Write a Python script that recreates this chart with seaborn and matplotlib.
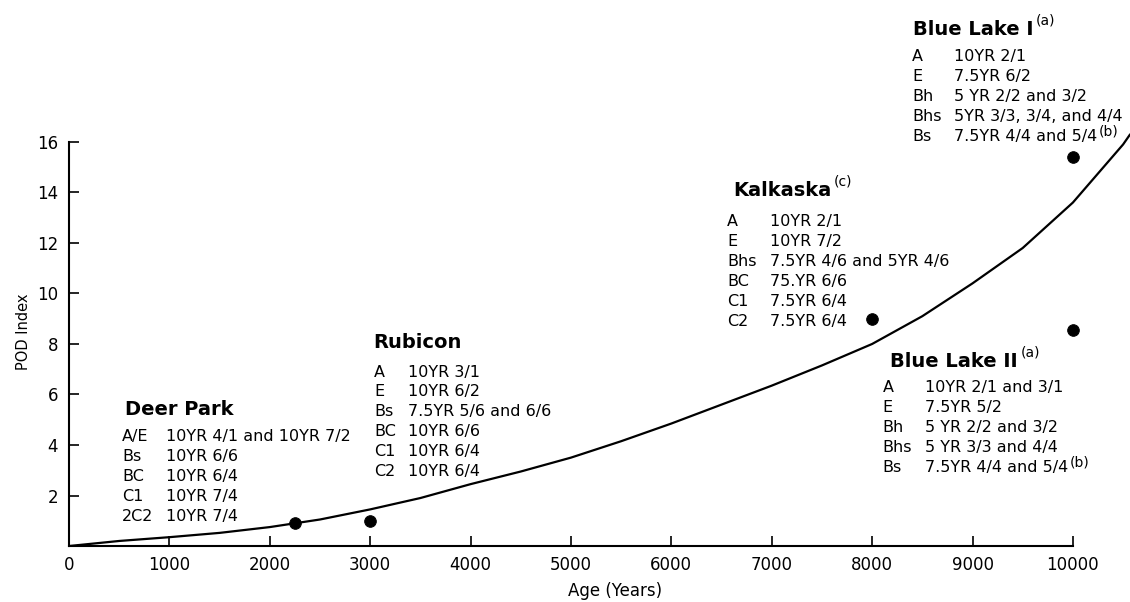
import matplotlib
matplotlib.use('Agg')
import matplotlib.pyplot as plt
import seaborn as sns
import pandas as pd

# Soil sites: age (years) and POD index
site_names = ['Deer Park', 'Rubicon', 'Kalkaska', 'Blue Lake I', 'Blue Lake II']
site_age = [2250, 3000, 8000, 10000, 10000]
site_pod = [0.9, 1.0, 9.0, 15.4, 8.55]

# Fitted curve
curve_age = [0, 500, 1000, 1500, 2000, 2500, 3000, 3500, 4000, 4500, 5000,
             5500, 6000, 6500, 7000, 7500, 8000, 8500, 9000, 9500, 10000,
             10500, 10570]
curve_pod = [0.0, 0.2, 0.35, 0.52, 0.75, 1.05, 1.45, 1.9, 2.45, 2.95, 3.5,
             4.15, 4.85, 5.6, 6.35, 7.15, 8.0, 9.1, 10.4, 11.8, 13.6,
             15.9, 16.3]

# Horizon colours for each soil
deer_horizons = ['A/E', 'Bs', 'BC', 'C1', '2C2']
deer_colors = ['10YR 4/1 and 10YR 7/2', '10YR 6/6', '10YR 6/4', '10YR 7/4', '10YR 7/4']
rubicon_horizons = ['A', 'E', 'Bs', 'BC', 'C1', 'C2']
rubicon_colors = ['10YR 3/1', '10YR 6/2', '7.5YR 5/6 and 6/6', '10YR 6/6', '10YR 6/4', '10YR 6/4']
kalkaska_horizons = ['A', 'E', 'Bhs', 'BC', 'C1', 'C2']
kalkaska_colors = ['10YR 2/1', '10YR 7/2', '7.5YR 4/6 and 5YR 4/6', '75.YR 6/6', '7.5YR 6/4', '7.5YR 6/4']
bl1_horizons = ['A', 'E', 'Bh', 'Bhs', 'Bs']
bl1_colors = ['10YR 2/1', '7.5YR 6/2', '5 YR 2/2 and 3/2', '5YR 3/3, 3/4, and 4/4', '7.5YR 4/4 and 5/4']
bl2_horizons = ['A', 'E', 'Bh', 'Bhs', 'Bs']
bl2_colors = ['10YR 2/1 and 3/1', '7.5YR 5/2', '5 YR 2/2 and 3/2', '5 YR 3/3 and 4/4', '7.5YR 4/4 and 5/4']

ROW_STEP = 0.79  # spacing of text rows in POD units


def soil_block(ax, title, horizons, colors, x_title, y_title, x_hor, x_col, y_row,
               title_note=None, last_note=None):
    t = ax.text(x_title, y_title, title, fontsize=14, fontweight='bold',
                ha='left', va='center')
    if title_note:
        # small raised note right after the soil name
        ax.annotate(title_note, xy=(1, 0.5), xycoords=t, xytext=(2, 7),
                    textcoords='offset points', fontsize=10, va='center')
    v = None
    for i, (h, c) in enumerate(zip(horizons, colors)):
        y = y_row - i * ROW_STEP
        ax.text(x_hor, y, h, fontsize=11.5, ha='left', va='center')
        v = ax.text(x_col, y, c, fontsize=11.5, ha='left', va='center')
    if last_note and v is not None:
        ax.annotate(last_note, xy=(1, 0.5), xycoords=v, xytext=(1, 4),
                    textcoords='offset points', fontsize=10, va='center')


sns.set_style('ticks')
plt.rcParams['font.family'] = ['DejaVu Sans']
plt.rcParams.update({'text.color': 'black', 'axes.labelcolor': 'black',
                     'xtick.color': 'black', 'ytick.color': 'black',
                     'axes.edgecolor': 'black'})

fig = plt.figure(figsize=(11.3, 6.02), dpi=100)
ax = fig.add_axes([0.0611, 0.093, 0.939, 0.907])

curve = pd.DataFrame({'age': curve_age, 'pod': curve_pod})
points = pd.DataFrame({'age': site_age, 'pod': site_pod, 'site': site_names})

sns.lineplot(data=curve, x='age', y='pod', color='black', linewidth=1.6, ax=ax)
sns.scatterplot(data=points, x='age', y='pod', color='black', s=70,
                edgecolor='black', ax=ax, zorder=3)

ax.set_xlim(0, 10570)
ax.set_ylim(0, 21.62)
ax.set_xticks(range(0, 10001, 1000))
ax.set_yticks(range(2, 17, 2))
ax.spines['top'].set_visible(False)
ax.spines['right'].set_visible(False)
ax.spines['left'].set_bounds(0, 16)
ax.spines['bottom'].set_bounds(0, 10000)
for s in ['left', 'bottom']:
    ax.spines[s].set_linewidth(1.5)
ax.tick_params(axis='both', direction='in', length=7, width=1.2, labelsize=12)
ax.tick_params(axis='x', pad=7)
ax.tick_params(axis='y', pad=8)

ax.set_xlabel('Age (Years)', fontsize=12)
ax.set_ylabel('POD Index', fontsize=10.5)
ax.xaxis.set_label_coords(0.515, -0.066)
ax.yaxis.set_label_coords(-0.036, 0.392)

soil_block(ax, 'Deer Park', deer_horizons, deer_colors,
           558, 5.39, 528, 966, 4.32)
soil_block(ax, 'Rubicon', rubicon_horizons, rubicon_colors,
           3028, 8.04, 3038, 3376, 6.89)
soil_block(ax, 'Kalkaska', kalkaska_horizons, kalkaska_colors,
           6613, 14.06, 6554, 6982, 12.83, title_note='(c)')
soil_block(ax, 'Blue Lake I', bl1_horizons, bl1_colors,
           8406, 20.44, 8396, 8815, 19.37, title_note='(a)', last_note='(b)')
soil_block(ax, 'Blue Lake II', bl2_horizons, bl2_colors,
           8177, 7.29, 8107, 8526, 6.26, title_note='(a)', last_note='(b)')

fig.savefig('out.png', dpi=100)
